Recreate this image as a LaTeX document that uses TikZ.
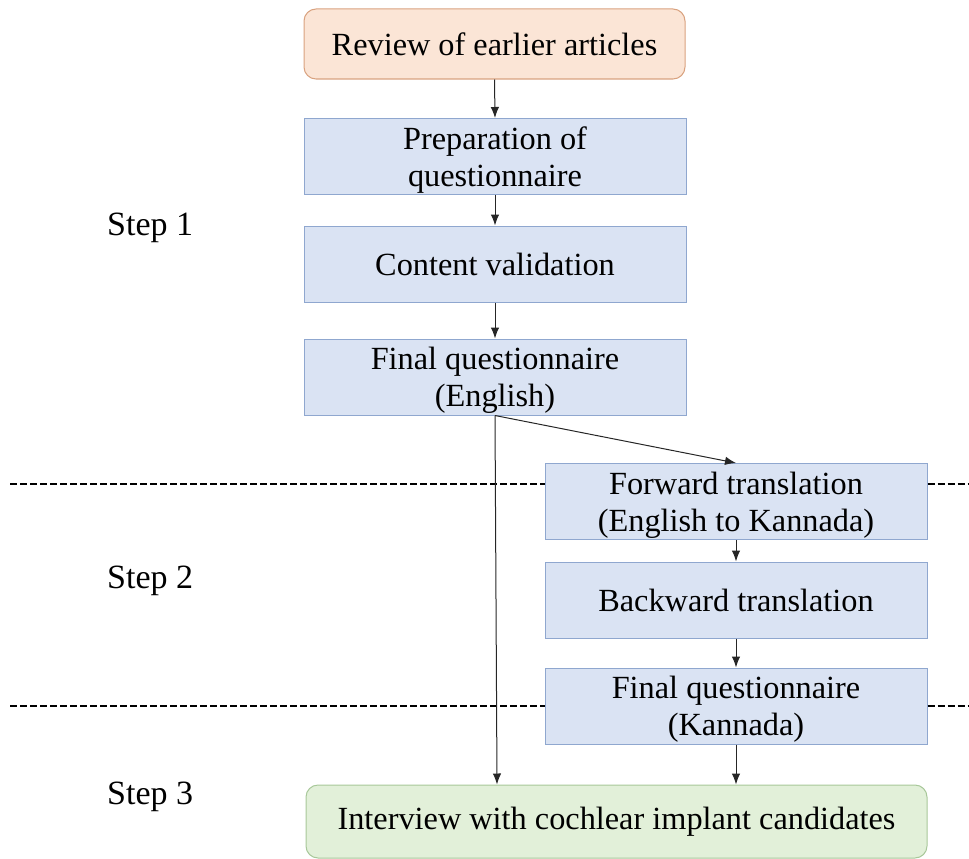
\documentclass[tikz,border=0pt]{standalone}
\usepackage{fontspec}
\setmainfont{Liberation Serif}
\usetikzlibrary{arrows.meta}
\definecolor{bfill}{HTML}{DAE3F3}
\definecolor{bline}{HTML}{8FA7CF}
\definecolor{ofill}{HTML}{FBE5D6}
\definecolor{oline}{HTML}{D9A27F}
\definecolor{gfill}{HTML}{E2F0D9}
\definecolor{gline}{HTML}{A8C89A}
\begin{document}
\begin{tikzpicture}[x=1pt,y=-1pt,
  txt/.style={font=\fontsize{32.3}{37}\selectfont, align=center},
  bbox/.style={txt, draw=bline, fill=bfill, line width=1pt, minimum width=382pt, minimum height=76pt, inner sep=0pt},
  twoline/.style={text depth=0pt},
  obox/.style={txt, draw=oline, fill=ofill, line width=1pt, rounded corners=12pt, minimum width=381pt, minimum height=70pt, inner sep=0pt},
  gbox/.style={txt, draw=gline, fill=gfill, line width=1pt, rounded corners=12pt, minimum width=621pt, minimum height=73pt, inner sep=0pt},
  arr/.style={-{Latex[length=11pt,width=8.5pt]}, line width=1pt, draw=black!85},
  sep/.style={line width=1.2pt, dash pattern=on 7pt off 3pt},
  steplbl/.style={font=\fontsize{34}{36}\selectfont, anchor=west, inner sep=0pt}]
\useasboundingbox (0,0) rectangle (969,859);
\node[obox] (rev) at (494.5,44) {Review of earlier articles};
\node[bbox,twoline] (prep) at (495,156.5) {Preparation of\\questionnaire};
\node[bbox] (cont) at (495,264) {Content validation};
\node[bbox,twoline] (fen) at (495,377) {Final questionnaire\\(English)};
\node[bbox,twoline] (fwd) at (736,501.5) {Forward translation\\(English to Kannada)};
\node[bbox] (bwd) at (736,600) {Backward translation};
\node[bbox,twoline] (fkn) at (736,706) {Final questionnaire\\(Kannada)};
\node[gbox] (int) at (616.5,821.5) {\raisebox{-3pt}{Interview with cochlear implant candidates}};
\node[steplbl] (s1) at (107,228) {Step 1};
\node[steplbl] (s2) at (107,581) {Step 2};
\node[steplbl] (s3) at (107,797) {Step 3};
\coordinate (d1a) at (10,484);
\coordinate (d1b) at (969,484);
\coordinate (d2a) at (10,706);
\coordinate (d2b) at (969,706);
\draw[sep] (d1a) -- (fwd.west |- d1a);
\draw[sep] (fwd.east |- d1b) -- (d1b);
\draw[sep] (d2a) -- (fkn.west |- d2a);
\draw[sep] (fkn.east |- d2b) -- (d2b);
\draw[arr] (rev.south) -- (prep.north);
\draw[arr] (prep.south) -- (cont.north);
\draw[arr] (cont.south) -- (fen.north);
\draw[arr] (fen.south) -- (fwd.north);
\draw[arr] (fen.south) -- (int.north -| 497,0);
\draw[arr] (fwd.south) -- (bwd.north);
\draw[arr] (bwd.south) -- (fkn.north);
\draw[arr] (fkn.south) -- (int.north -| fkn.south);
\end{tikzpicture}
\end{document}
